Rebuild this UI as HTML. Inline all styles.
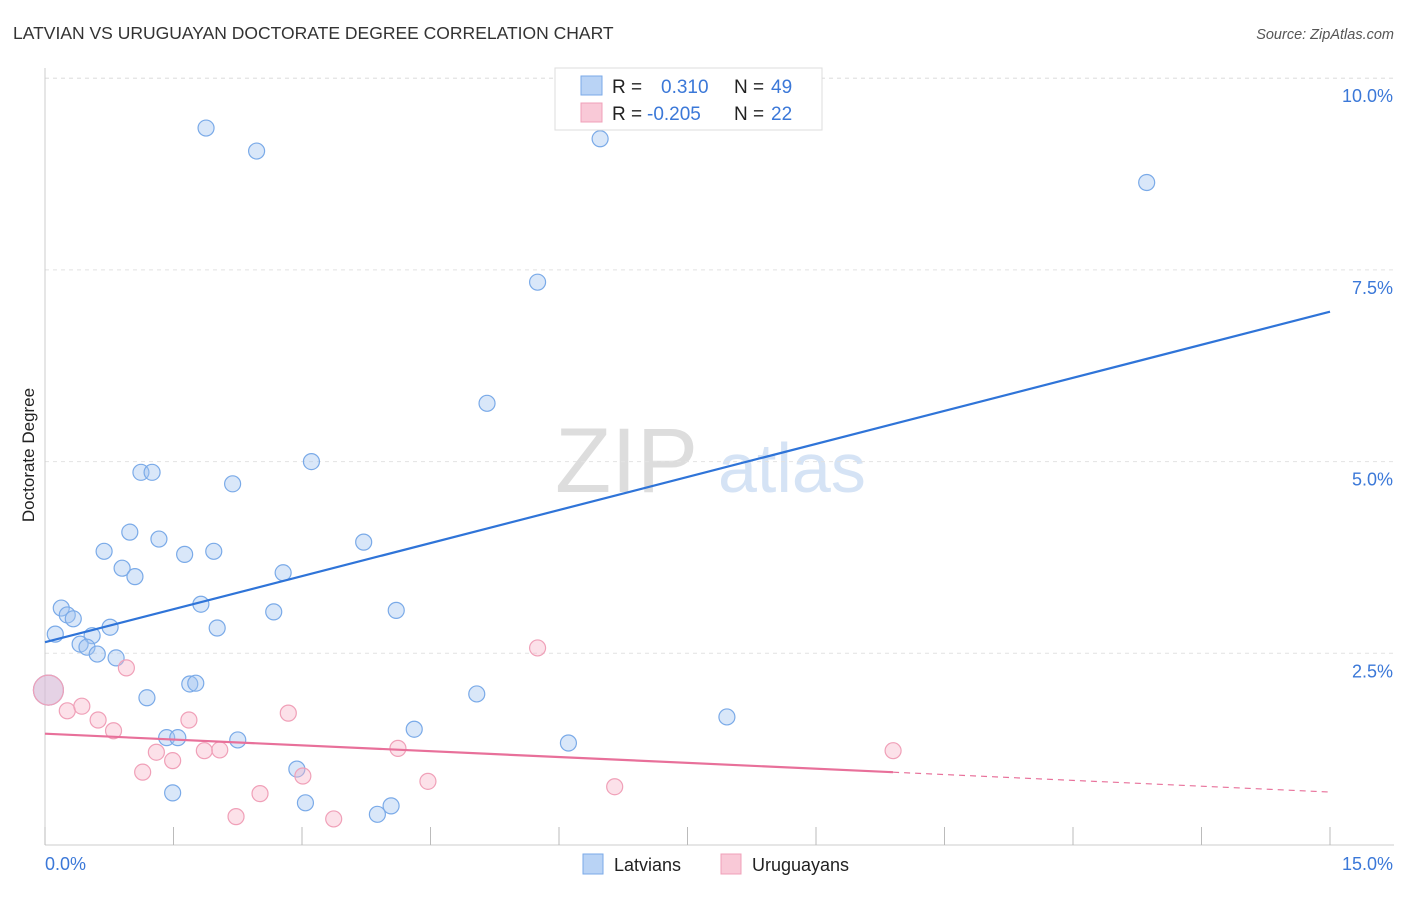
<!DOCTYPE html>
<html><head><meta charset="utf-8">
<style>
body{margin:0;background:#fff;font-family:"Liberation Sans",sans-serif;}
svg text{font-family:"Liberation Sans",sans-serif;}
</style></head>
<body>
<svg id="chart" width="1406" height="892" viewBox="0 0 1406 892" xmlns="http://www.w3.org/2000/svg">
<text x="13" y="39" font-size="17.5" fill="#333">LATVIAN VS URUGUAYAN DOCTORATE DEGREE CORRELATION CHART</text>
<text x="1394" y="39" font-size="14.5" fill="#555" font-style="italic" text-anchor="end">Source: ZipAtlas.com</text>
<text x="555" y="492" font-size="92" fill="#ddd" font-family="Liberation Serif">ZIP</text>
<text x="718" y="492" font-size="70" fill="#d5e3f5">atlas</text>
<text transform="translate(34,455) rotate(-90)" font-size="17" fill="#222" text-anchor="middle">Doctorate Degree</text>
<g id="grid"></g><g id="marks"></g>
<g>
<rect x="555" y="68" width="267" height="62" fill="#fff" stroke="#ddd"/>
<rect x="581" y="76" width="21" height="19" fill="#b9d3f5" stroke="#7aaae8"/>
<rect x="581" y="103" width="21" height="19" fill="#f9c9d7" stroke="#f0a0b8"/>
<text x="612" y="93" font-size="19" fill="#222">R = </text><text x="661" y="93" font-size="19" fill="#3b78d8">0.310</text>
<text x="734" y="93" font-size="19" fill="#222">N = </text><text x="771" y="93" font-size="19" fill="#3b78d8">49</text>
<text x="612" y="120" font-size="19" fill="#222">R = </text><text x="647" y="120" font-size="19" fill="#3b78d8">-0.205</text>
<text x="734" y="120" font-size="19" fill="#222">N = </text><text x="771" y="120" font-size="19" fill="#3b78d8">22</text>
</g>
<g>
<rect x="583" y="854" width="20" height="20" fill="#b9d3f5" stroke="#7aaae8"/>
<text x="614" y="871" font-size="18" fill="#222">Latvians</text>
<rect x="721" y="854" width="20" height="20" fill="#f9c9d7" stroke="#f0a0b8"/>
<text x="752" y="871" font-size="18" fill="#222">Uruguayans</text>
</g>
</svg>
<script>
const xTicks=[0,1.5,3,4.5,6,7.5,9,10.5,12,13.5,15];
const yTicks=[2.5,5,7.5,10];
const yTickLabels=["2.5%","5.0%","7.5%","10.0%"];
const latX=[1.88,2.47,6.48,12.86,5.75,5.16,3.11,1.12,1.25,2.19,0.99,1.33,3.72,0.69,1.63,1.97,0.90,1.05,2.78,0.19,0.26,0.33,1.82,2.67,4.10,0.12,0.55,0.76,2.01,0.41,0.49,0.61,0.83,0.04,1.69,1.76,1.19,5.04,7.96,4.31,1.42,1.55,2.25,6.11,2.94,1.49,3.04,4.04,3.88];
const latY=[9.35,9.05,9.21,8.64,7.34,5.76,5.00,4.86,4.86,4.71,4.08,3.99,3.95,3.83,3.79,3.83,3.61,3.50,3.55,3.09,3.00,2.95,3.14,3.04,3.06,2.75,2.73,2.84,2.83,2.62,2.58,2.49,2.44,2.02,2.10,2.11,1.92,1.97,1.67,1.51,1.40,1.40,1.37,1.33,0.99,0.68,0.55,0.51,0.40];
const uruX=[0.04,0.26,0.43,0.62,0.80,0.95,1.14,1.30,1.49,1.68,1.86,2.04,2.23,2.51,2.84,3.01,3.37,4.12,4.47,5.75,6.65,9.90];
const uruY=[2.02,1.75,1.81,1.63,1.49,2.31,0.95,1.21,1.10,1.63,1.23,1.24,0.37,0.67,1.72,0.90,0.34,1.26,0.83,2.57,0.76,1.23];
const X0=45,X1=1330,Y0=845,PER=76.68;
const sx=v=>X0+(X1-X0)*v/15, sy=v=>Y0-v*PER;
const NS="http://www.w3.org/2000/svg";
function mk(tag,attrs,parent){const e=document.createElementNS(NS,tag);for(const k in attrs)e.setAttribute(k,attrs[k]);parent.appendChild(e);return e;}
const grid=document.getElementById('grid'),marks=document.getElementById('marks');
yTicks.forEach((t,i)=>{
 const l=mk('line',{x1:X0,x2:1394,y1:sy(t),y2:sy(t),stroke:'#e2e2e2','stroke-dasharray':'4,4'},grid);
 
 
 const tx=mk('text',{x:1393,y:sy(t)+24,'font-size':18,fill:'#3b78d8','text-anchor':'end'},grid);
 tx.textContent=yTickLabels[i];
 
 
});
const tl=mk('line',{x1:X0,x2:1394,y1:sy(10),y2:sy(10),stroke:'#e2e2e2','stroke-dasharray':'4,4'},grid);
const ax=mk('line',{x1:X0,x2:1394,y1:Y0,y2:Y0,stroke:'#ccc'},grid);


const ay=mk('line',{x1:X0,x2:X0,y1:68,y2:Y0,stroke:'#ccc'},grid);


xTicks.forEach(t=>{
 const l=mk('line',{x1:sx(t),x2:sx(t),y1:Y0-18,y2:Y0,stroke:'#bbb'},grid);
 
 
});
const xl0=mk('text',{x:45,y:870,'font-size':18,fill:'#3b78d8'},grid);xl0.textContent='0.0%';


const xl1=mk('text',{x:1393,y:870,'font-size':18,fill:'#3b78d8','text-anchor':'end'},grid);xl1.textContent='15.0%';


function reg(xs,ys){const n=xs.length;let mx=0,my=0;for(let i=0;i<n;i++){mx+=xs[i];my+=ys[i];}mx/=n;my/=n;let a=0,b=0;for(let i=0;i<n;i++){a+=(xs[i]-mx)*(ys[i]-my);b+=(xs[i]-mx)**2;}const s=a/b;return [my-s*mx,s];}
latX.forEach((v,i)=>{
 const c=mk('circle',{cx:sx(v),cy:sy(latY[i]),r:i===33?15:8,fill:'rgba(160,196,240,0.4)',stroke:'#7aaae8','stroke-width':1.2},marks);
 
 
});
uruX.forEach((v,i)=>{
 const c=mk('circle',{cx:sx(v),cy:sy(uruY[i]),r:i===0?15:8,fill:'rgba(248,180,200,0.4)',stroke:'#f0a0b8','stroke-width':1.2},marks);
 
 
});
const [ba,bs]=reg(latX,latY);
const bl=mk('line',{x1:sx(0),y1:sy(ba),x2:sx(15),y2:sy(ba+bs*15),stroke:'#2f74d8','stroke-width':2.2},marks);


const [pa,ps]=reg(uruX,uruY);
const xm=Math.max(...uruX);
const pl=mk('line',{x1:sx(0),y1:sy(pa),x2:sx(xm),y2:sy(pa+ps*xm),stroke:'#e8709a','stroke-width':2.2},marks);


const pd=mk('line',{x1:sx(xm),y1:sy(pa+ps*xm),x2:sx(15),y2:sy(pa+ps*15),stroke:'#e8709a','stroke-width':1.2,'stroke-dasharray':'6,5'},marks);


</script>
</body></html>
